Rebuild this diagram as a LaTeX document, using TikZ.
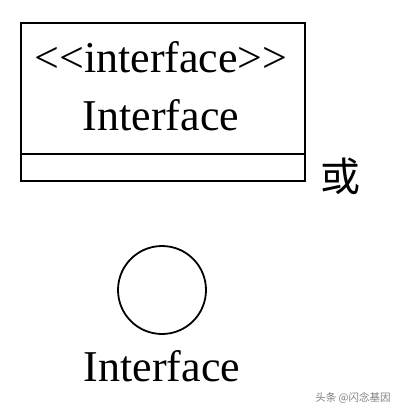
\documentclass[tikz,border=0pt]{standalone}
\usepackage{fontspec}
\setmainfont{Liberation Serif}
\newfontfamily\cjk{Noto Sans CJK SC}
\begin{document}
\begin{tikzpicture}[x=1pt,y=-1pt,
  lbl/.style={inner sep=0pt,anchor=base,font=\fontsize{44}{48}\selectfont},
  box/.style={draw,line width=1.8pt}]
\useasboundingbox (0,0) rectangle (400,412);
\fill[white] (0,0) rectangle (400,412);
\node[box,minimum width=284pt,minimum height=131pt,anchor=north west,inner sep=0pt] (name) at (20,22) {};
\node[box,minimum width=284pt,minimum height=27pt,anchor=north west,inner sep=0pt] (ops) at (20,153) {};
\node[lbl] (st) at (161,72) {<{}<interface>{}>};
\node[lbl] (nm) at (161,130) {Interface};
\node[inner sep=0pt,font=\cjk\fontsize{40}{44}\selectfont] (or) at (340,176) {或};
\node[draw,circle,line width=1.8pt,minimum size=88pt,inner sep=0pt] (lol) at (162,290) {};
\node[lbl] (lolname) at (162,381) {Interface};
\node[inner sep=0pt,text=gray,font=\cjk\fontsize{10.5}{12}\selectfont] (wm) at (353,398) {头条 @闪念基因};
\end{tikzpicture}
\end{document}
